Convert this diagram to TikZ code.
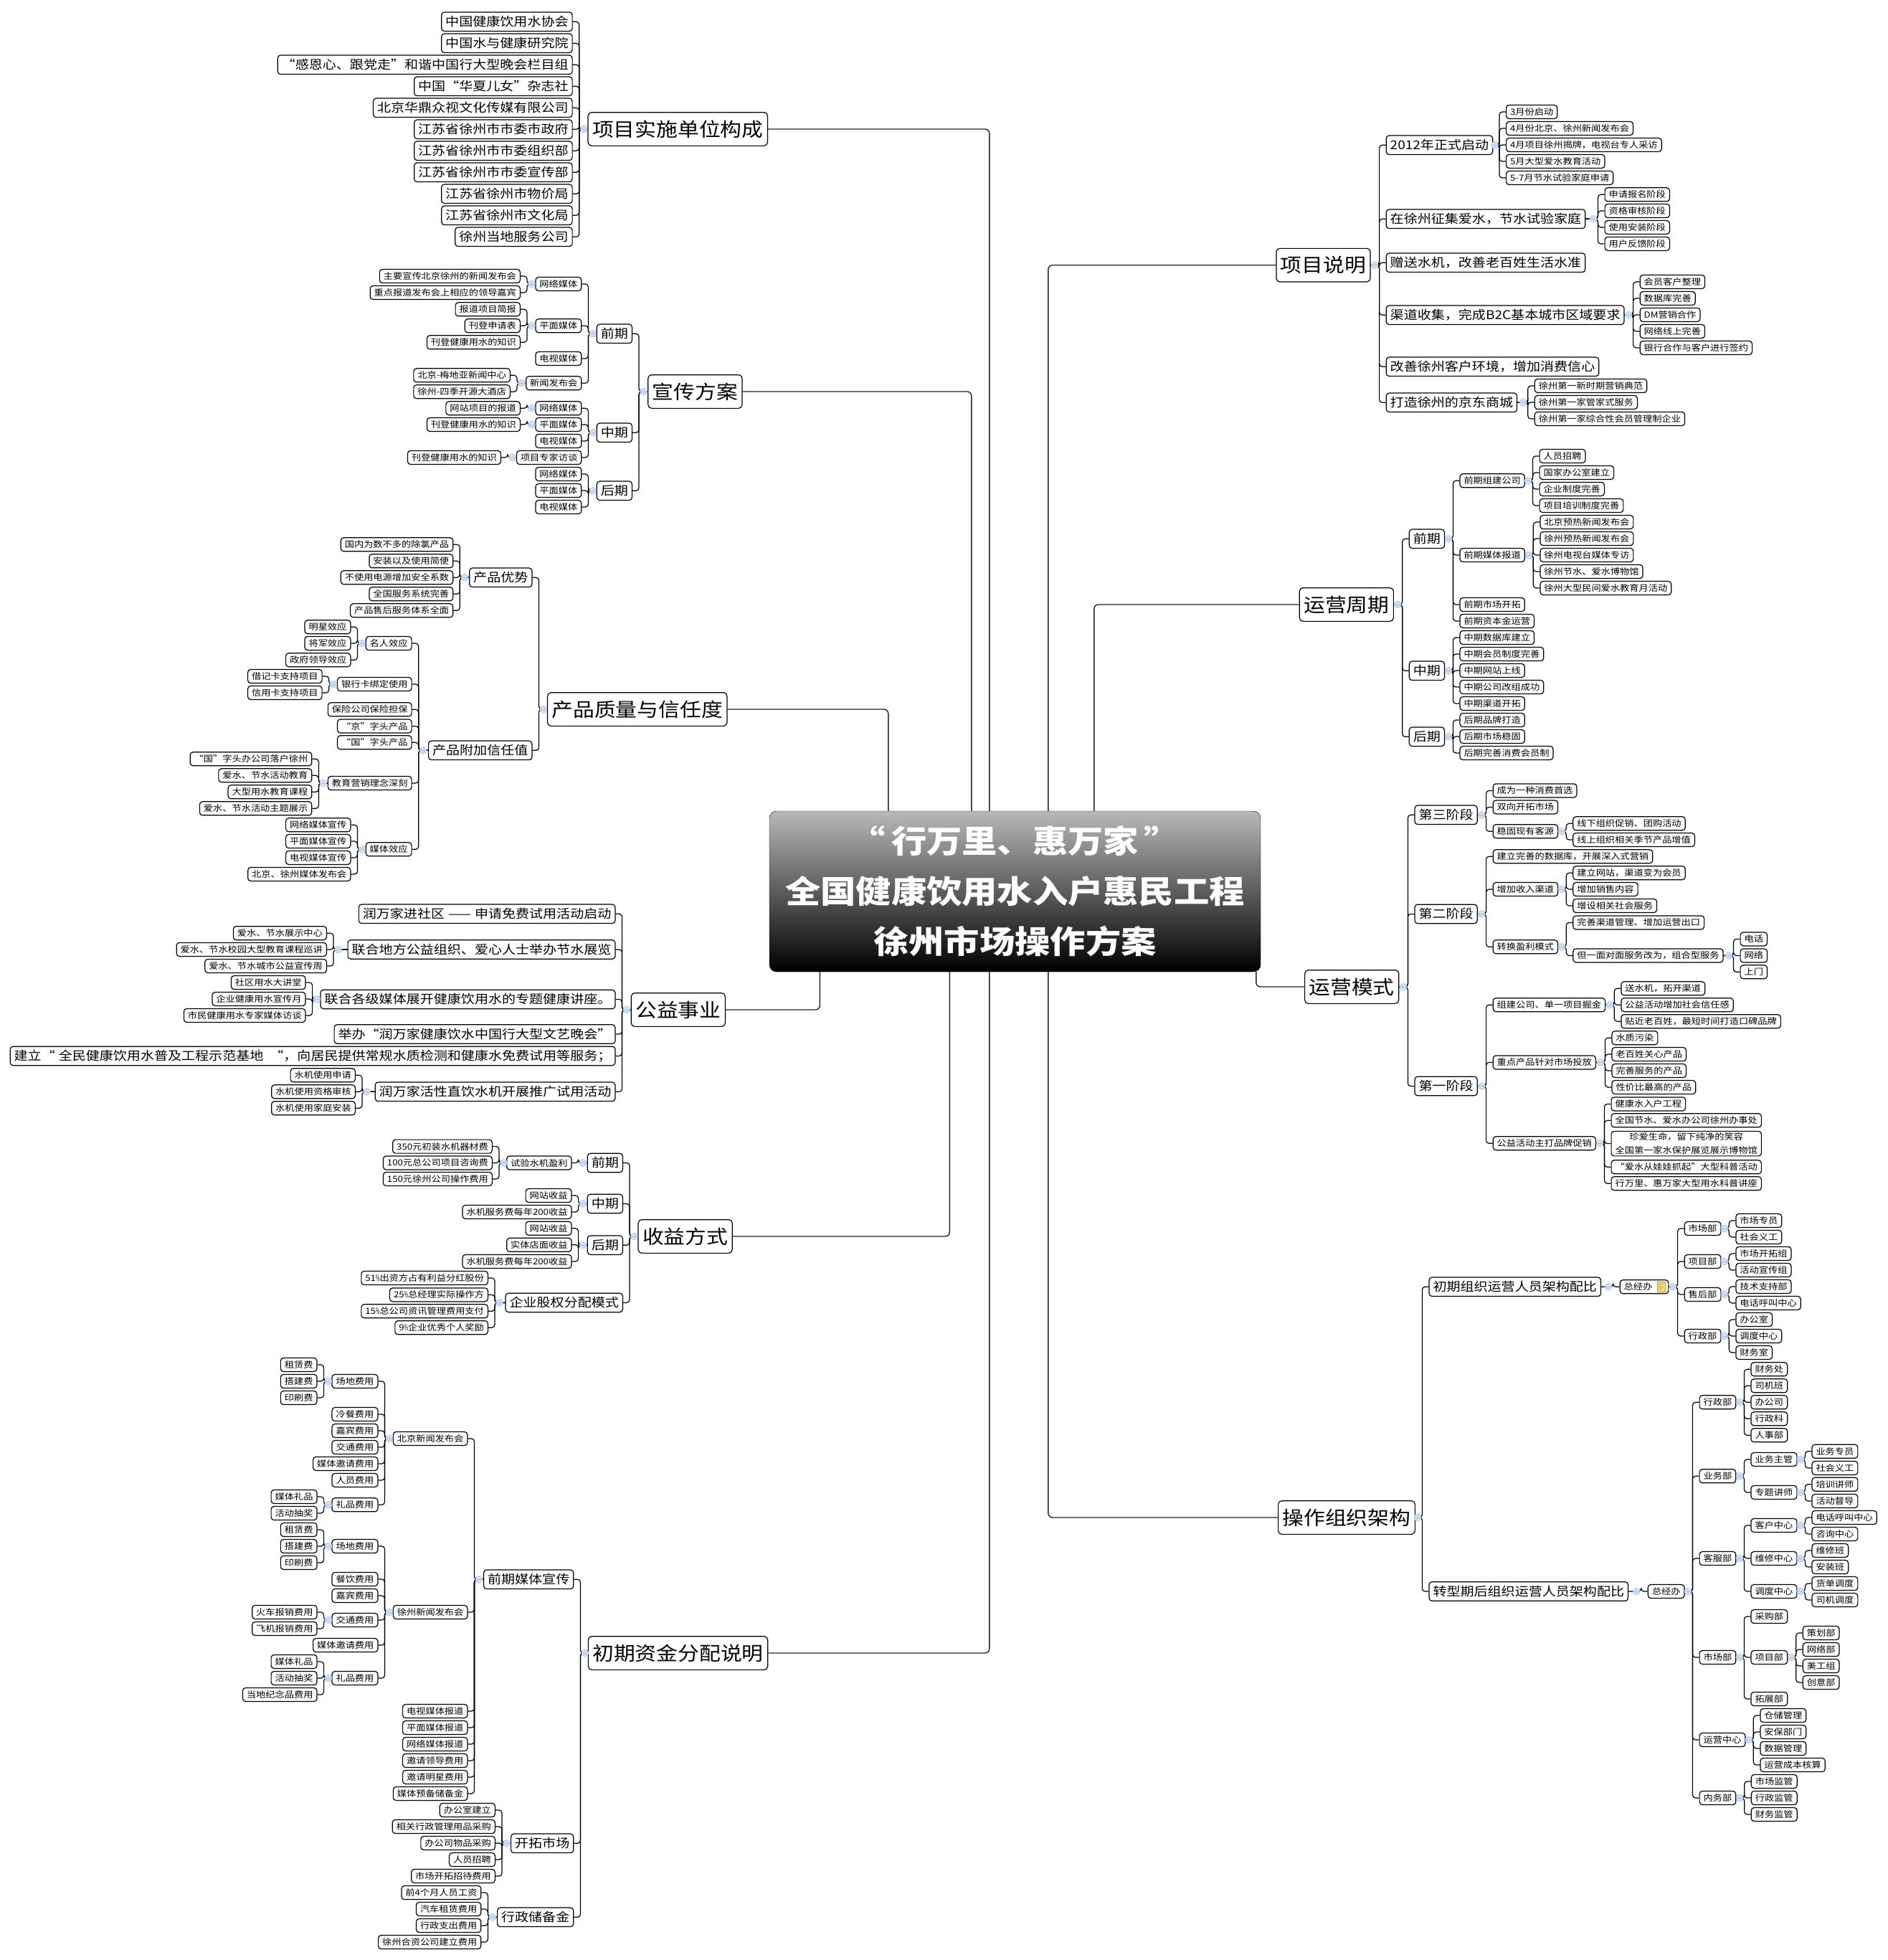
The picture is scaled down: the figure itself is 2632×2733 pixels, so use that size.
\documentclass[tikz,border=0pt]{standalone}
\usepackage{fontspec}
\usetikzlibrary{calc}
\setmainfont[FakeStretch=1.12]{Noto Sans CJK SC}
\definecolor{foldblue}{HTML}{CFDFF5}
\definecolor{foldedge}{HTML}{A9C3E6}
\definecolor{rootgrey}{HTML}{B8B8B8}
\definecolor{noteyellow}{HTML}{F8DF86}
\definecolor{noteedge}{HTML}{C2962B}
\newcommand{\pct}{\scalebox{.45}[1]{\%}}
\newcommand{\growL}[4]{
  \foreach \ky/\kt [count=\kn] in {#4} {
    \node[#2,anchor=east] (#1-\kn) at (#3,\ky) {\kt};
    \path (#1-\kn.east) ++(9,0) coordinate (#1-bus);
    \draw[wire] (#1-\kn.east) [rounded corners=4pt] -- (#1-bus) -- (#1-bus |- #1.west) [sharp corners] -- (#1.west);
  }
  \node[fold] (#1-fold) at ($(#1-bus |- #1.west)+(6.5,0)$) {};
}
\newcommand{\growR}[4]{
  \foreach \ky/\kt [count=\kn] in {#4} {
    \node[#2,anchor=west] (#1-\kn) at (#3,\ky) {\kt};
    \path (#1-\kn.west) ++(-9,0) coordinate (#1-bus);
    \draw[wire] (#1-\kn.west) [rounded corners=4pt] -- (#1-bus) -- (#1-bus |- #1.east) [sharp corners] -- (#1.east);
  }
  \node[fold] (#1-fold) at ($(#1-bus |- #1.east)+(-6.5,0)$) {};
}
\begin{document}
\begin{tikzpicture}[
  x=1pt,y=-1pt,
  every node/.style={align=center,text=black},
  box/.style={draw=black,fill=white,line width=1.2pt,rounded corners=4pt,inner xsep=5.5pt,inner ysep=2.5pt},
  twig/.style={box,minimum height=19pt,font=\fontsize{11.8}{18.5}\selectfont},
  limb/.style={box,minimum height=26.5pt,font=\fontsize{17}{22}\selectfont},
  stem/.style={box,minimum height=46.7pt,rounded corners=5pt,inner xsep=6pt,font=\fontsize{26.6}{32}\selectfont},
  rootbox/.style={draw=black,top color=rootgrey,bottom color=black,rounded corners=10pt,minimum width=685pt,minimum height=224pt,text=white,font=\fontsize{44}{70}\selectfont\bfseries},
  wire/.style={line width=1.2pt,color=black},
  trunk/.style={line width=1.4pt,color=black!85,rounded corners=6pt},
  fold/.style={circle,fill=foldblue,draw=foldedge,line width=.5pt,minimum size=10pt,inner sep=0pt,path picture={\draw[foldedge,line width=.8pt] (path picture bounding box.west) -- (path picture bounding box.east);}},
  noteicon/.style={rectangle,fill=noteyellow,draw=noteedge,line width=.8pt,minimum width=11pt,minimum height=14pt,inner sep=0pt,path picture={\draw[noteedge,line width=.6pt] ([shift={(2pt,-3pt)}]path picture bounding box.north west) -- ++(7,0) ([shift={(2pt,-6.5pt)}]path picture bounding box.north west) -- ++(7,0) ([shift={(2pt,-10pt)}]path picture bounding box.north west) -- ++(5,0);}}
]
\useasboundingbox (0,-1) rectangle (2632,2732);
\node[rootbox] (root) at (1415.5,1242) {“\hspace{8pt}行万里、惠万家\hspace{8pt}”\\全国健康饮用水入户惠民工程\\徐州市场操作方案};
\node[stem,anchor=east] (shishi) at (1071,179) {项目实施单位构成};
\node[stem,anchor=east] (xuanchuan) at (1035.6,545) {宣传方案};
\node[stem,anchor=east] (zhiliang) at (1014.5,988) {产品质量与信任度};
\node[stem,anchor=east] (gongyi) at (1012,1407) {公益事业};
\node[stem,anchor=east] (shouyi) at (1021.8,1723) {收益方式};
\node[stem,anchor=east] (zijin) at (1071.3,2304) {初期资金分配说明};
\node[stem,anchor=west] (shuoming) at (1779.3,368.7) {项目说明};
\node[stem,anchor=west] (zhouqi) at (1811.6,842) {运营周期};
\node[stem,anchor=west] (moshi) at (1819,1375) {运营模式};
\node[stem,anchor=west] (jiagou) at (1782,2115) {操作组织架构};
\draw[trunk] (shishi.east) -| ([xshift=307pt]root.north west);
\draw[trunk] (xuanchuan.east) -| ([xshift=282pt]root.north west);
\draw[trunk] (zhiliang.east) -| ([xshift=166pt]root.north west);
\draw[trunk] (gongyi.east) -| ([xshift=70.6pt]root.south west);
\draw[trunk] (shouyi.east) -| ([xshift=251.5pt]root.south west);
\draw[trunk] (zijin.east) -| ([xshift=307pt]root.south west);
\draw[trunk] (shuoming.west) -| ([xshift=389pt]root.north west);
\draw[trunk] (zhouqi.west) -| ([xshift=453pt]root.north west);
\draw[trunk] (moshi.west) -| ([xshift=679pt]root.south west);
\draw[trunk] (jiagou.west) -| ([xshift=389pt]root.south west);
\growL{shishi}{limb}{798.7}{29.3/中国健康饮用水协会,59.3/中国水与健康研究院,89.3/“感恩心、跟党走”和谐中国行大型晚会栏目组,119.3/中国“华夏儿女”杂志社,149.3/北京华鼎众视文化传媒有限公司,179.3/江苏省徐州市市委市政府,209.3/江苏省徐州市市委组织部,239.3/江苏省徐州市市委宣传部,269.3/江苏省徐州市物价局,299.3/江苏省徐州市文化局,329.3/徐州当地服务公司}
\growL{xuanchuan}{limb}{882}{464.3/前期,602.3/中期,683.3/后期}
\growL{xuanchuan-1}{twig}{811.4}{395/网络媒体,453.3/平面媒体,499/电视媒体,533.3/新闻发布会}
\growL{xuanchuan-1-1}{twig}{726}{384/主要宣传北京徐州的新闻发布会,407/重点报道发布会上相应的领导嘉宾}
\growL{xuanchuan-1-2}{twig}{726}{430.3/报道项目简报,453.3/刊登申请表,476.3/刊登健康用水的知识}
\growL{xuanchuan-1-4}{twig}{712}{522.3/北京-梅地亚新闻中心,545.3/徐州-四季开源大酒店}
\growL{xuanchuan-2}{twig}{811.4}{568.3/网络媒体,591/平面媒体,614/电视媒体,637/项目专家访谈}
\growL{xuanchuan-2-1}{twig}{726}{568.3/网站项目的报道}
\growL{xuanchuan-2-2}{twig}{726}{591/刊登健康用水的知识}
\growL{xuanchuan-2-4}{twig}{699}{637/刊登健康用水的知识}
\growL{xuanchuan-3}{twig}{811.4}{660/网络媒体,683/平面媒体,706/电视媒体}
\growL{zhiliang}{limb}{742.5}{804.3/产品优势,1045.3/产品附加信任值}
\growL{zhiliang-1}{twig}{632.3}{758.3/国内为数不多的除氯产品,781.3/安装以及使用简便,804.3/不使用电源增加安全系数,827.3/全国服务系统完善,850.3/产品售后服务体系全面}
\growL{zhiliang-2}{twig}{574.7}{896/名人效应,953/银行卡绑定使用,988.3/保险公司保险担保,1011.5/“京”字头产品,1034.3/“国”字头产品,1091/教育营销理念深刻,1183.3/媒体效应}
\growL{zhiliang-2-1}{twig}{489.5}{873.3/明星效应,896/将军效应,919.3/政府领导效应}
\growL{zhiliang-2-2}{twig}{449.7}{942/借记卡支持项目,965/信用卡支持项目}
\growL{zhiliang-2-6}{twig}{435.4}{1057.3/“国”字头办公司落户徐州,1080.3/爱水、节水活动教育,1103.3/大型用水教育课程,1126.3/爱水、节水活动主题展示}
\growL{zhiliang-2-7}{twig}{489.5}{1149.3/网络媒体宣传,1172/平面媒体宣传,1195/电视媒体宣传,1218/北京、徐州媒体发布会}
\growL{gongyi}{limb}{858.5}{1273.3/润万家进社区\hspace{5pt}——\hspace{5pt}申请免费试用活动启动,1323/联合地方公益组织、爱心人士举办节水展览,1392.4/联合各级媒体展开健康饮用水的专题健康讲座。,1441/举办“润万家健康饮水中国行大型文艺晚会”,1471.4/建立“\hspace{5pt}全民健康饮用水普及工程示范基地\hspace{9pt}“，向居民提供常规水质检测和健康水免费试用等服务；,1521.3/润万家活性直饮水机开展推广试用活动}
\growL{gongyi-2}{twig}{456}{1300.2/爱水、节水展示中心,1323/爱水、节水校园大型教育课程巡讲,1346/爱水、节水城市公益宣传周}
\growL{gongyi-3}{twig}{426.6}{1369/社区用水大讲堂,1392/企业健康用水宣传月,1415/市民健康用水专家媒体访谈}
\growL{gongyi-6}{twig}{496}{1498.3/水机使用申请,1521.3/水机使用资格审核,1544.2/水机使用家庭安装}
\growL{shouyi}{limb}{869}{1620.5/前期,1677.4/中期,1735.2/后期,1815.4/企业股权分配模式}
\growL{shouyi-1}{twig}{797.6}{1620.5/试验水机盈利}
\growL{shouyi-1-1}{twig}{687}{1597.6/350元初装水机器材费,1620.5/100元总公司项目咨询费,1643/150元徐州公司操作费用}
\growL{shouyi-2}{twig}{797.6}{1666/网站收益,1689/水机服务费每年200收益}
\growL{shouyi-3}{twig}{797.6}{1711.8/网站收益,1734.8/实体店面收益,1758/水机服务费每年200收益}
\growL{shouyi-4}{twig}{681}{1781/51\pct 出资方占有利益分红股份,1804.4/25\pct 总经理实际操作方,1827.3/15\pct 总公司资讯管理费用支付,1850.2/9\pct 企业优秀个人奖励}
\growL{zijin}{limb}{800.4}{2201.3/前期媒体宣传,2569.3/开拓市场,2672.3/行政储备金}
\growL{zijin-1}{twig}{652.5}{2005/北京新闻发布会,2247/徐州新闻发布会,2385/电视媒体报道,2408/平面媒体报道,2431/网络媒体报道,2454/邀请领导费用,2477/邀请明星费用,2500/媒体预备储备金}
\growL{zijin-1-1}{twig}{527.5}{1925/场地费用,1971/冷餐费用,1994/嘉宾费用,2017/交通费用,2040/媒体邀请费用,2063/人员费用,2097.3/礼品费用}
\growL{zijin-1-1-1}{twig}{442.6}{1902/租赁费,1925/搭建费,1948/印刷费}
\growL{zijin-1-1-7}{twig}{442.6}{2086/媒体礼品,2109/活动抽奖}
\growL{zijin-1-2}{twig}{527.5}{2155/场地费用,2201/餐饮费用,2224/嘉宾费用,2258/交通费用,2293/媒体邀请费用,2339/礼品费用}
\growL{zijin-1-2-1}{twig}{442.6}{2132/租赁费,2155/搭建费,2178/印刷费}
\growL{zijin-1-2-4}{twig}{442.6}{2247/火车报销费用,2270/飞机报销费用}
\growL{zijin-1-2-6}{twig}{442.6}{2316/媒体礼品,2339/活动抽奖,2362/当地纪念品费用}
\growL{zijin-2}{twig}{691}{2523/办公室建立,2546/相关行政管理用品采购,2569/办公司物品采购,2592/人员招聘,2615/市场开拓招待费用}
\growL{zijin-3}{twig}{671.4}{2638/前4个月人员工资,2661/汽车租赁费用,2684/行政支出费用,2707/徐州合资公司建立费用}
\growR{shuoming}{limb}{1932.6}{201.3/2012年正式启动,304.3/在徐州征集爱水，节水试验家庭,365.3/赠送水机，改善老百姓生活水准,438.3/渠道收集，完成B2C基本城市区域要求,510.3/改善徐州客户环境，增加消费信心,560.3/打造徐州的京东商城}
\growR{shuoming-1}{twig}{2100}{155/3月份启动,178/4月份北京、徐州新闻发布会,201/4月项目徐州揭牌，电视台专人采访,224/5月大型爱水教育活动,247/5-7月节水试验家庭申请}
\growR{shuoming-2}{twig}{2237.5}{270.3/申请报名阶段,293/资格审核阶段,316/使用安装阶段,339/用户反馈阶段}
\growR{shuoming-4}{twig}{2286.6}{392/会员客户整理,415/数据库完善,438/DM营销合作,461/网络线上完善,484/银行合作与客户进行签约}
\growR{shuoming-6}{twig}{2139.7}{537/徐州第一新时期营销典范,560/徐州第一家管家式服务,583/徐州第一家综合性会员管理制企业}
\growR{zhouqi}{limb}{1964.7}{750.3/前期,934.3/中期,1026.3/后期}
\growR{zhouqi-1}{twig}{2035.4}{669.3/前期组建公司,773/前期媒体报道,842/前期市场开拓,865/前期资本金运营}
\growR{zhouqi-1-1}{twig}{2146.5}{635/人员招聘,658/国家办公室建立,681/企业制度完善,704/项目培训制度完善}
\growR{zhouqi-1-2}{twig}{2147.3}{727/北京预热新闻发布会,750/徐州预热新闻发布会,773/徐州电视台媒体专访,796/徐州节水、爱水博物馆,819/徐州大型民间爱水教育月活动}
\growR{zhouqi-2}{twig}{2035.4}{888/中期数据库建立,911/中期会员制度完善,934/中期网站上线,957/中期公司改组成功,980/中期渠道开拓}
\growR{zhouqi-3}{twig}{2035.4}{1003/后期品牌打造,1026/后期市场稳固,1049/后期完善消费会员制}
\growR{moshi}{limb}{1972.4}{1135.3/第三阶段,1273.4/第二阶段,1513.5/第一阶段}
\growR{moshi-1}{twig}{2081.6}{1101.4/成为一种消费首选,1124.4/双向开拓市场,1158.2/稳固现有客源}
\growR{moshi-1-3}{twig}{2193.2}{1147.3/线下组织促销、团购活动,1170/线上组织相关季节产品增值}
\growR{moshi-2}{twig}{2081.6}{1193.2/建立完善的数据库，开展深入式营销,1239/增加收入渠道,1319.3/转换盈利模式}
\growR{moshi-2-2}{twig}{2193.2}{1216.2/建立网站，渠道变为会员,1239/增加销售内容,1262/增设相关社会服务}
\growR{moshi-2-3}{twig}{2193.2}{1285.4/完善渠道管理、增加运营出口,1331.4/但一面对面服务改为，组合型服务}
\growR{moshi-2-3-2}{twig}{2426.5}{1308.4/电话,1331.4/网络,1354.3/上门}
\growR{moshi-3}{twig}{2081.6}{1400.2/组建公司、单一项目掘金,1480.4/重点产品针对市场投放,1593.2/公益活动主打品牌促销}
\growR{moshi-3-1}{twig}{2260.3}{1377.3/送水机，拓开渠道,1400.2/公益活动增加社会信任感,1423.2/贴近老百姓，最短时间打造口碑品牌}
\growR{moshi-3-2}{twig}{2247.4}{1446.2/水质污染,1469/老百姓关心产品,1492/完善服务的产品,1515/性价比最高的产品}
\growR{moshi-3-3}{twig}{2246.5}{1538.4/健康水入户工程,1561.3/全国节水、爱水办公司徐州办事处,1593.6/{珍爱生命，留下纯净的笑容\\全国第一家水保护展览展示博物馆},1626.3/“爱水从娃娃抓起”大型科普活动,1649.3/行万里、惠万家大型用水科普讲座}
\growR{jiagou}{limb}{1992.4}{1793.3/初期组织运营人员架构配比,2218/转型期后组织运营人员架构配比}
\growR{jiagou-1}{twig}{2258.6}{1793.3/总经办\hspace{17pt}}
\node[noteicon] (jiagou-1-1-note) at ($(jiagou-1-1.east)+(-11,0)$) {};
\growR{jiagou-1-1}{twig}{2348.6}{1712/市场部,1758/项目部,1804/售后部,1862/行政部}
\growR{jiagou-1-1-1}{twig}{2420.3}{1701/市场专员,1724/社会义工}
\growR{jiagou-1-1-2}{twig}{2420.3}{1747/市场开拓组,1770/活动宣传组}
\growR{jiagou-1-1-3}{twig}{2420.3}{1793/技术支持部,1816/电话呼叫中心}
\growR{jiagou-1-1-4}{twig}{2420.3}{1839/办公室,1862/调度中心,1885/财务室}
\growR{jiagou-2}{twig}{2297.7}{2218/总经办}
\growR{jiagou-2-1}{twig}{2369.5}{1954.3/行政部,2057.3/业务部,2172/客服部,2310/市场部,2425/运营中心,2506/内务部}
\growR{jiagou-2-1-1}{twig}{2441.4}{1908.3/财务处,1931.3/司机班,1954.3/办公司,1977.3/行政科,2000.3/人事部}
\growR{jiagou-2-1-2}{twig}{2441.4}{2034/业务主管,2080/专题讲师}
\growR{jiagou-2-1-2-1}{twig}{2526.4}{2022.7/业务专员,2046/社会义工}
\growR{jiagou-2-1-2-2}{twig}{2526.4}{2068.7/培训讲师,2092/活动督导}
\growR{jiagou-2-1-3}{twig}{2441.4}{2126/客户中心,2172/维修中心,2218/调度中心}
\growR{jiagou-2-1-3-1}{twig}{2526.4}{2115/电话呼叫中心,2138/咨询中心}
\growR{jiagou-2-1-3-2}{twig}{2526.4}{2161/维修班,2184/安装班}
\growR{jiagou-2-1-3-3}{twig}{2526.4}{2207/货单调度,2230/司机调度}
\growR{jiagou-2-1-4}{twig}{2441.4}{2253/采购部,2310/项目部,2368/拓展部}
\growR{jiagou-2-1-4-2}{twig}{2513.7}{2276/策划部,2299/网络部,2322/美工组,2345/创意部}
\growR{jiagou-2-1-5}{twig}{2454.3}{2391/仓储管理,2414/安保部门,2437/数据管理,2460/运营成本核算}
\growR{jiagou-2-1-6}{twig}{2441.7}{2483/市场监管,2506/行政监管,2529/财务监管}
\end{tikzpicture}
\end{document}
